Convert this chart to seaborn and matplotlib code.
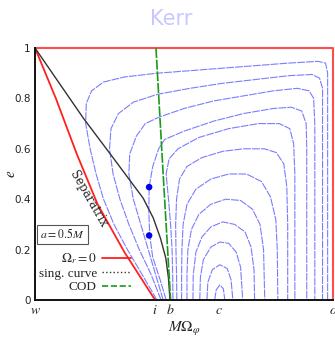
import pandas as pd
import seaborn as sns
import matplotlib.pyplot as plt
from matplotlib.lines import Line2D

# frequency axis scaled so w=0 and the right edge=1
tick_pos = [0.0, 0.402, 0.455, 0.618, 1.0]
tick_lab = ['$w$', '$i$', '$b$', '$c$', '$o$']

# separatrix (Omega_r = 0)
sep_x = [0.0, 0.07, 0.14, 0.21, 0.30, 0.403]
sep_e = [1.0, 0.80, 0.58, 0.38, 0.19, 0.0]

# singular curve
sing_x = [0.0, 0.162, 0.263, 0.363, 0.397, 0.421, 0.439, 0.448, 0.453]
sing_e = [1.0, 0.722, 0.563, 0.404, 0.325, 0.245, 0.166, 0.086, 0.0]

# COD
cod_x = [0.406, 0.430, 0.455]
cod_e = [1.0, 0.5, 0.0]

# marked points
dot_x = [0.383, 0.383]
dot_e = [0.448, 0.256]

# contour lines, outermost first
curves = {
    'l': ([0.409, 0.36, 0.31, 0.265, 0.23, 0.205, 0.185, 0.17, 0.172, 0.19, 0.23, 0.30, 0.41, 0.52, 0.63, 0.74, 0.85, 0.95, 0.975, 0.982, 0.982],
          [0.0, 0.10, 0.20, 0.30, 0.40, 0.50, 0.60, 0.70, 0.78, 0.83, 0.865, 0.885, 0.90, 0.91, 0.92, 0.93, 0.94, 0.947, 0.94, 0.90, 0.0]),
    'k': ([0.423, 0.39, 0.35, 0.315, 0.285, 0.262, 0.25, 0.255, 0.28, 0.33, 0.41, 0.52, 0.63, 0.74, 0.85, 0.93, 0.955, 0.965, 0.965],
          [0.0, 0.10, 0.20, 0.30, 0.40, 0.50, 0.60, 0.68, 0.74, 0.785, 0.816, 0.84, 0.86, 0.875, 0.89, 0.895, 0.88, 0.84, 0.0]),
    'j': ([0.43, 0.405, 0.38, 0.355, 0.33, 0.315, 0.318, 0.34, 0.37, 0.415, 0.50, 0.60, 0.70, 0.80, 0.88, 0.92, 0.935, 0.939, 0.939],
          [0.0, 0.10, 0.20, 0.30, 0.40, 0.50, 0.58, 0.65, 0.70, 0.725, 0.76, 0.79, 0.81, 0.83, 0.84, 0.83, 0.80, 0.70, 0.0]),
    'i': ([0.44, 0.42, 0.395, 0.385, 0.382, 0.383, 0.395, 0.415, 0.435, 0.50, 0.60, 0.70, 0.80, 0.86, 0.895, 0.91, 0.912, 0.912],
          [0.0, 0.08, 0.17, 0.256, 0.35, 0.448, 0.53, 0.60, 0.637, 0.67, 0.71, 0.74, 0.76, 0.765, 0.75, 0.70, 0.60, 0.0]),
    'h': ([0.463, 0.462, 0.46, 0.455, 0.448, 0.44, 0.45, 0.48, 0.55, 0.65, 0.75, 0.82, 0.855, 0.868, 0.872, 0.872],
          [0.0, 0.10, 0.20, 0.30, 0.40, 0.50, 0.56, 0.60, 0.645, 0.68, 0.70, 0.70, 0.68, 0.62, 0.50, 0.0]),
    'g': ([0.476, 0.475, 0.473, 0.472, 0.475, 0.485, 0.51, 0.56, 0.63, 0.70, 0.77, 0.81, 0.835, 0.845, 0.848, 0.848],
          [0.0, 0.10, 0.20, 0.30, 0.40, 0.48, 0.53, 0.565, 0.59, 0.60, 0.60, 0.585, 0.54, 0.45, 0.30, 0.0]),
    'f': ([0.492, 0.492, 0.493, 0.497, 0.51, 0.54, 0.59, 0.65, 0.71, 0.76, 0.79, 0.808, 0.813, 0.815],
          [0.0, 0.10, 0.20, 0.30, 0.38, 0.44, 0.48, 0.50, 0.50, 0.47, 0.41, 0.32, 0.20, 0.0]),
    'e': ([0.51, 0.51, 0.513, 0.525, 0.55, 0.59, 0.64, 0.69, 0.73, 0.755, 0.767, 0.771],
          [0.0, 0.10, 0.20, 0.28, 0.34, 0.38, 0.40, 0.395, 0.36, 0.30, 0.20, 0.0]),
    'd': ([0.53, 0.531, 0.54, 0.56, 0.59, 0.63, 0.67, 0.705, 0.725, 0.735, 0.737],
          [0.0, 0.10, 0.19, 0.25, 0.29, 0.31, 0.30, 0.27, 0.21, 0.12, 0.0]),
    'c': ([0.553, 0.555, 0.565, 0.59, 0.62, 0.65, 0.675, 0.69, 0.697],
          [0.0, 0.09, 0.16, 0.21, 0.23, 0.225, 0.19, 0.13, 0.0]),
    'b': ([0.577, 0.58, 0.595, 0.62, 0.645, 0.658, 0.664],
          [0.0, 0.07, 0.12, 0.14, 0.125, 0.08, 0.0]),
    'a': ([0.603, 0.608, 0.62, 0.632, 0.637],
          [0.0, 0.04, 0.06, 0.045, 0.0]),
}

sns.set_theme(style='white')
plt.rcParams['font.family'] = ['DejaVu Sans']
plt.rcParams['mathtext.fontset'] = 'stix'

fig = plt.figure(figsize=(3.35, 3.38), dpi=100)
ax = fig.add_axes([0.1045, 0.1124, 0.8895, 0.7456])

for name, (cx, ce) in curves.items():
    sns.lineplot(x=cx, y=ce, sort=False, estimator=None, ax=ax,
                 color='#7c7cff', lw=0.8, linestyle=(0, (7, 1)))

sns.lineplot(x=sep_x, y=sep_e, sort=False, estimator=None, ax=ax, color='#ff2020', lw=1.3)
sns.lineplot(x=[0, 1, 1], y=[1, 1, 0], sort=False, estimator=None, ax=ax,
             color='#ff2020', lw=1.5, alpha=0.8)
sns.lineplot(x=sing_x, y=sing_e, sort=False, estimator=None, ax=ax, color='#333333', lw=1.0)
sns.lineplot(x=cod_x, y=cod_e, sort=False, estimator=None, ax=ax,
             color='#1a9a1a', lw=1.2, linestyle=(0, (6, 1)))
sns.scatterplot(x=dot_x, y=dot_e, ax=ax, color='#0000ee', s=22, edgecolor='none', zorder=5)

for ln in ax.lines:
    ln.set_clip_on(False)

ax.set_xlim(0, 1)
ax.set_ylim(0, 1)
ax.set_xticks(tick_pos)
ax.set_xticklabels(tick_lab, fontsize=10)
ax.set_yticks([0, 0.2, 0.4, 0.6, 0.8, 1.0])
ax.set_yticklabels(['0', '0.2', '0.4', '0.6', '0.8', '1'], fontsize=7.5)
ax.tick_params(axis='both', direction='in', length=2, width=0.8, pad=3, colors='#222222')
ax.tick_params(axis='x', pad=2)
for s in ['top', 'right']:
    ax.spines[s].set_visible(False)
for s in ['left', 'bottom']:
    ax.spines[s].set_color('#111111')
    ax.spines[s].set_linewidth(1.4)

ax.set_xlabel(r'$M\Omega_\varphi$', fontsize=11, labelpad=2)
ax.set_ylabel('$e$', fontsize=11)
ax.yaxis.set_label_coords(-0.058, 0.5)
fig.text(0.51, 0.945, 'Kerr', ha='center', va='center', fontsize=15, color='#c8c8ff')

ax.text(0.18, 0.40, 'Separatrix', rotation=-60, ha='center', va='center',
        fontsize=8.5, family='DejaVu Serif')
ax.text(0.018, 0.26, '$a = 0.5M$', fontsize=8.5, ha='left', va='center',
        bbox=dict(boxstyle='square,pad=0.25', fc='white', ec='#555555', lw=0.8))

handles = [Line2D([], [], color='#ff2020', lw=1.3),
           Line2D([], [], color='#333333', lw=1.0, linestyle=':'),
           Line2D([], [], color='#1a9a1a', lw=1.2, linestyle='--')]
labels = [r'$\Omega_r = 0$', 'sing. curve', 'COD']
leg = ax.legend(handles, labels, loc='lower left', bbox_to_anchor=(-0.01, 0.0),
                frameon=False, markerfirst=False, handlelength=2.2,
                handletextpad=0.4, labelspacing=0.1, borderaxespad=0.1,
                prop={'family': 'Liberation Serif', 'size': 9.5})
for t in leg.get_texts():
    t.set_ha('right')

fig.savefig('out.png', dpi=100)
